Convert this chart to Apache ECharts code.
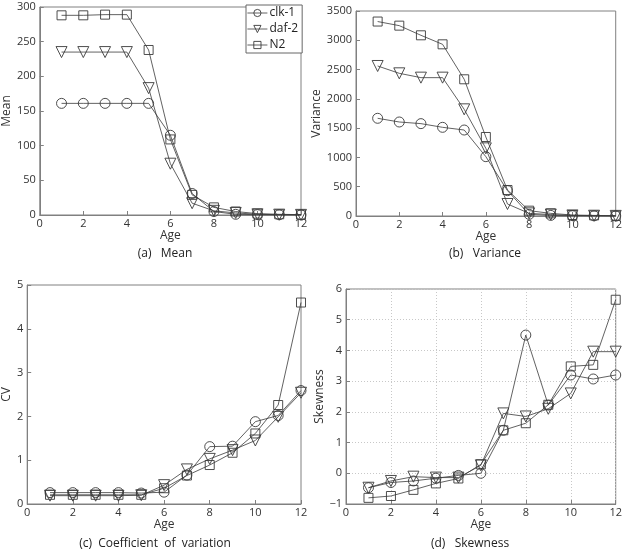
<!DOCTYPE html>
<html><head><meta charset="utf-8">
<script src="https://cdn.jsdelivr.net/npm/echarts@6/dist/echarts.min.js"></script>
<style>html,body{margin:0;padding:0;background:#fff}#c{width:625px;height:551px}</style>
</head><body><div id="c"></div>
<script>
const ages = [1,2,3,4,5,6,7,8,9,10,11,12];
const seriesNames = ['clk-1','daf-2','N2'];
const meanClk = [161,161,161,161,161,115,31,5,1,0.5,0.3,0.2];
const meanDaf = [235,235,235,235,183,74,17,6,3,1,0.5,0.2];
const meanN2  = [288,288,289,289,238,109,29,11,5,2,1,0.5];
const varClk = [1668,1605,1577,1514,1468,1013,433,28,10,5,3,1];
const varDaf = [2561,2436,2362,2362,1821,1155,205,45,25,10,5,2];
const varN2  = [3320,3250,3085,2931,2334,1349,444,91,45,17,10,5];
const cvClk = [0.26,0.26,0.26,0.26,0.25,0.27,0.66,1.31,1.32,1.88,2.02,2.59];
const cvDaf = [0.19,0.19,0.19,0.19,0.20,0.43,0.79,1.03,1.23,1.45,1.99,2.54];
const cvN2  = [0.21,0.21,0.21,0.21,0.21,0.36,0.65,0.89,1.17,1.61,2.26,4.60];
const skClk = [-0.47,-0.30,-0.25,-0.16,-0.07,0.0,1.40,4.50,2.22,3.20,3.07,3.20];
const skDaf = [-0.47,-0.25,-0.11,-0.14,-0.14,0.26,1.95,1.85,2.10,2.60,3.96,3.96];
const skN2  = [-0.80,-0.74,-0.54,-0.33,-0.17,0.29,1.40,1.63,2.23,3.48,3.53,5.65];
const xTicks = [0,2,4,6,8,10,12];
const captions = ['(a)   Mean','(b)   Variance','(c)  Coefficient  of  variation','(d)   Skewness'];
const yNames = ['Mean','Variance','CV','Skewness'];

const panels = [
  {data:[meanClk,meanDaf,meanN2], min:0, max:300, interval:50, grid:{left:34,top:7,width:267,height:208}, nameGap:24, grid2:false},
  {data:[varClk,varDaf,varN2], min:0, max:3500, interval:500, grid:{left:356,top:11,width:262,height:205}, nameGap:32, grid2:false},
  {data:[cvClk,cvDaf,cvN2], min:0, max:5, interval:1, grid:{left:23,top:285,width:278,height:219}, nameGap:13, grid2:false},
  {data:[skClk,skDaf,skN2], min:-1, max:6, interval:1, grid:{left:346,top:289,width:271,height:215}, nameGap:19, grid2:true}
];
const symbols = ['circle','path://M0,0 L10,0 L5,9 Z','rect'];
const symSizes = [10,11,9];
const lineColor = '#3a3a3a';
const axisColor = '#808080';
const font = 'Open Sans, Liberation Sans, sans-serif';
const minus = v => String(v).replace('-', '\u2212');

const grids = [], xAxes = [], yAxes = [], series = [];
panels.forEach((p,i)=>{
  grids.push(Object.assign({show:true, borderColor:axisColor, borderWidth:1, backgroundColor:'#fff'}, p.grid));
  const split = {show:p.grid2, lineStyle:{color:'#c8c8c8', type:[1,2], width:1}};
  xAxes.push({type:'value', gridIndex:i, min:0, max:12, interval:2, name:'Age', nameLocation:'middle', nameGap:14,
    nameTextStyle:{color:'#333', fontSize:12, fontFamily:font},
    axisLine:{show:true, onZero:false, lineStyle:{color:axisColor}}, axisTick:{inside:true, length:4, lineStyle:{color:axisColor}},
    axisLabel:{color:'#333', fontSize:11, margin:3, fontFamily:font, formatter:v=>minus(v)}, splitLine:split});
  yAxes.push({type:'value', gridIndex:i, min:p.min, max:p.max, interval:p.interval, name:yNames[i], nameLocation:'middle', nameGap:p.nameGap,
    nameTextStyle:{color:'#333', fontSize:12, fontFamily:font},
    axisLine:{show:true, onZero:false, lineStyle:{color:axisColor}}, axisTick:{inside:true, length:4, lineStyle:{color:axisColor}},
    axisLabel:{color:'#333', fontSize:11, margin:4, fontFamily:font, formatter:v=>minus(v)}, splitLine:split});
  p.data.forEach((arr,k)=>{
    series.push({type:'line', name:seriesNames[k], xAxisIndex:i, yAxisIndex:i,
      data:ages.map((a,j)=>[a,arr[j]]), symbol:symbols[k], symbolSize:symSizes[k], showAllSymbol:true,
      lineStyle:{color:lineColor, width:0.8}, itemStyle:{color:'rgba(255,255,255,0)', borderColor:lineColor, borderWidth:0.9},
      animation:false, z:3+k});
  });
});

const titles = [
  {text:captions[0], left:165, top:248},
  {text:captions[1], left:485, top:248},
  {text:captions[2], left:155, top:538},
  {text:captions[3], left:470, top:538}
].map(t=>({text:t.text, left:t.left, top:t.top, textAlign:'center', padding:0,
  textStyle:{fontSize:12, fontWeight:'normal', color:'#222', fontFamily:font}}));

const chart = echarts.init(document.getElementById('c'), null, {renderer:'canvas'});
chart.setOption({
  animation:false,
  title:titles,
  grid:grids, xAxis:xAxes, yAxis:yAxes, series:series,
  legend:{data:seriesNames, orient:'vertical', left:246, top:5, padding:[2,4,2,1], itemGap:4, itemWidth:20, itemHeight:9,
    borderColor:'#666', borderWidth:1, backgroundColor:'#fff',
    itemStyle:{color:'rgba(255,255,255,0)', borderColor:lineColor, borderWidth:0.9},
    lineStyle:{color:lineColor, width:0.8},
    textStyle:{color:'#222', fontSize:12, fontFamily:font, padding:[0,0,0,-3]}, inactiveColor:'#ccc'}
});
</script></body></html>
